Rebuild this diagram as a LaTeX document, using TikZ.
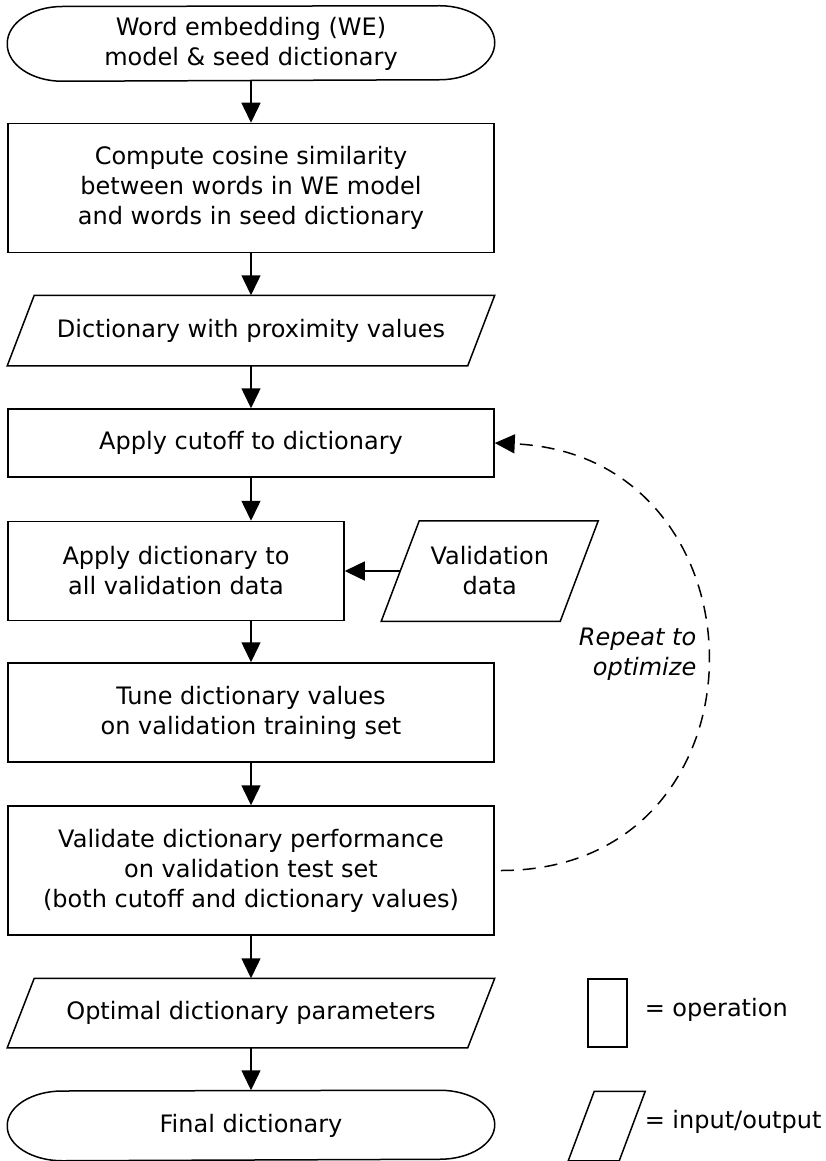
\documentclass[tikz,border=0pt]{standalone}
\usepackage{fontspec}
\setmainfont{DejaVu Sans}
\usetikzlibrary{arrows.meta}
\newcommand\iodraw[2]{\draw ([xshift=#2]#1.north west) -- ([xshift=#2]#1.north east) -- ([xshift=-#2]#1.south east) -- ([xshift=-#2]#1.south west) -- cycle;}
\newcommand\termdraw[3]{\draw (#1.west) arc[start angle=180,end angle=90,x radius=#2,y radius=#3] -- ([xshift=-#2]#1.north east) arc[start angle=90,end angle=-90,x radius=#2,y radius=#3] -- ([xshift=#2]#1.south west) arc[start angle=270,end angle=180,x radius=#2,y radius=#3] -- cycle;}
\begin{document}
\begin{tikzpicture}[x=1pt,y=-1pt,
  font=\fontsize{24}{30}\selectfont, line width=1.5pt,
  opbox/.style={draw, minimum width=486pt, align=center, inner sep=0pt},
  shape only/.style={align=center, inner sep=0pt},
  arr/.style={-{Triangle[length=20pt,width=19pt]}},
  loopline/.style={dash pattern=on 13pt off 9pt, -{Triangle[length=20pt,width=19pt]}}]
\useasboundingbox (0,0) rectangle (825,1161);

\node[shape only, minimum width=486pt, minimum height=74pt] (t1) at (251,43.5) {Word embedding (WE)\\model \& seed dictionary};
\termdraw{t1}{55pt}{37pt}
\node[opbox, minimum height=129pt] (b1) at (251,188) {Compute cosine similarity\\between words in WE model\\and words in seed dictionary};
\node[shape only, minimum width=459pt, minimum height=69pt] (p1) at (251,330.5) {Dictionary with proximity values};
\iodraw{p1}{13.5pt}
\node[opbox, minimum height=68pt] (b2) at (251,443) {Apply cutoff to dictionary};
\node[opbox, minimum width=336pt, minimum height=99pt] (b3) at (176,571) {Apply dictionary to\\all validation data};
\node[shape only, minimum width=177.5pt, minimum height=99pt] (p2) at (489.75,571) {Validation\\data};
\iodraw{p2}{19pt}
\node[opbox, minimum height=99pt] (b4) at (251,712.5) {Tune dictionary values\\on validation training set};
\node[opbox, minimum height=129pt] (b5) at (251,870.5) {Validate dictionary performance\\on validation test set\\(both cutoff and dictionary values)};
\node[shape only, minimum width=459pt, minimum height=68pt] (p3) at (251,1013) {Optimal dictionary parameters};
\iodraw{p3}{13.5pt}
\node[shape only, minimum width=486pt, minimum height=69pt] (t2) at (251,1125.5) {Final dictionary};
\termdraw{t2}{55pt}{34.5pt}

\draw[arr] (t1.south) -- (b1.north);
\draw[arr] (b1.south) -- (p1.north);
\draw[arr] (p1.south) -- (b2.north);
\draw[arr] (b2.south) -- (b2.south |- b3.north);
\draw[arr] (b2.south |- b3.south) -- (b4.north);
\draw[arr] (p2.west) -- (b3.east);
\draw[arr] (b4.south) -- (b5.north);
\draw[arr] (b5.south) -- (p3.north);
\draw[arr] (p3.south) -- (t2.north);

\coordinate (ls) at ([xshift=6pt]b5.east);
\draw[loopline] (ls) .. controls +(278,0) and +(280,12) .. (b2.east);
\node[shape only, anchor=east, align=right, font=\fontsize{24}{30}\selectfont\itshape] (rep) at (697,654) {Repeat to\\optimize};

\node[draw, minimum width=39pt, minimum height=68pt, inner sep=0pt] (lr) at (607.5,1013) {};
\node[shape only, anchor=west] (lrt) at (644,1010) {= operation};
\node[shape only, minimum width=49.5pt, minimum height=68pt] (lp) at (606.75,1126) {};
\iodraw{lp}{13pt}
\node[shape only, anchor=west] (lpt) at (644,1122) {= input/output};
\end{tikzpicture}
\end{document}
